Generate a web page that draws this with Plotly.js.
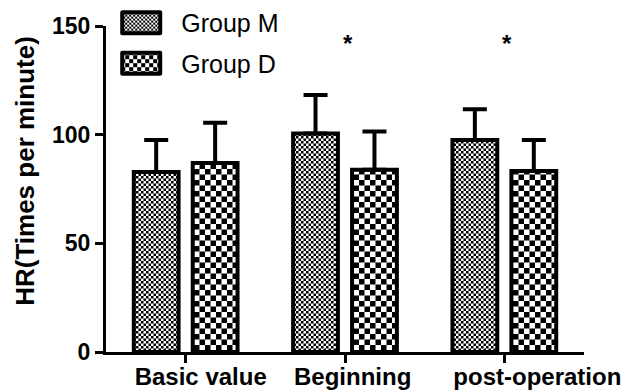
<!DOCTYPE html>
<html>
<head>
<meta charset="utf-8">
<script src="https://cdn.plot.ly/plotly-3.0.1.min.js"></script>
<style>
html,body{margin:0;padding:0;background:#fff;}
#chart{width:632px;height:392px;}
</style>
</head>
<body>
<div id="chart"></div>
<script>
var categories = ["Basic value", "Beginning", "post-operation"];
var groupM = [82.8, 100.5, 97.6];
var groupMErr = [14.8, 17.8, 14.1];
var groupD = [87.0, 83.8, 83.3];
var groupDErr = [18.5, 17.6, 14.3];
var starCategories = ["Beginning", "post-operation"];
var yTicks = [0, 50, 100, 150];
var yTitle = "HR(Times per minute)";

var FONT = "Liberation Sans, Arial, sans-serif";

function barTrace(name, vals, errs, psize) {
  return {
    type: "bar",
    name: name,
    x: categories,
    y: vals,
    marker: {
      color: "white",
      line: {color: "black", width: 4},
      pattern: {shape: ".", size: psize, solidity: 0.4, fgcolor: "black", bgcolor: "white", fillmode: "replace"}
    },
    error_y: {
      type: "data", symmetric: false, array: errs, arrayminus: [0, 0, 0],
      color: "black", thickness: 4, width: 12
    },
    legendgroup: name
  };
}

var data = [
  barTrace("Group M", groupM, groupMErr, 5),
  barTrace("Group D", groupD, groupDErr, 11)
];

var annotations = starCategories.map(function (c) {
  return {
    x: c, y: 142, xref: "x", yref: "y", text: "*", showarrow: false, xshift: 3,
    font: {family: FONT, size: 24, color: "black", weight: "bold"}
  };
});
annotations.push({
  x: -0.17, y: 0.555, xref: "paper", yref: "paper", text: yTitle, showarrow: false,
  textangle: -90, xanchor: "center", yanchor: "middle",
  font: {family: FONT, size: 26, color: "black", weight: "bold"}
});

var layout = {
  width: 632, height: 392,
  margin: {l: 106, r: 48, t: 26, b: 40, autoexpand: false},
  paper_bgcolor: "white", plot_bgcolor: "white",
  barmode: "group", bargap: 0.26, bargroupgap: 0.24,
  showlegend: true,
  legend: {
    x: -0.01, y: 1.08, xanchor: "left", yanchor: "top",
    bgcolor: "rgba(0,0,0,0)", itemwidth: 70,
    font: {family: FONT, size: 25, color: "black"},
    traceorder: "grouped", tracegroupgap: 5,
    itemclick: false
  },
  xaxis: {
    type: "category", range: [-0.5, 2.5],
    showline: true, linewidth: 3, linecolor: "black",
    ticks: "outside", ticklen: 8, tickwidth: 3, tickcolor: "black",
    showgrid: false, zeroline: false, ticklabelstandoff: 1,
    ticklabelposition: "outside right", ticklabelshift: -54,
    tickfont: {family: FONT, size: 24, color: "black", weight: "bold"}
  },
  yaxis: {
    range: [0, 150], tickvals: yTicks, ticktext: yTicks.map(String),
    showline: true, linewidth: 3, linecolor: "black",
    ticks: "outside", ticklen: 8, tickwidth: 3, tickcolor: "black",
    showgrid: false, zeroline: false,
    tickfont: {family: FONT, size: 23, color: "black", weight: "bold"}
  },
  annotations: annotations
};

function checkerize(gd) {
  var pats = gd.querySelectorAll("pattern");
  var ns = "http://www.w3.org/2000/svg";
  pats.forEach(function (p) {
    var w = parseFloat(p.getAttribute("width"));
    if (!w) return;
    while (p.firstChild) p.removeChild(p.firstChild);
    var h = w / 2;
    var bg = document.createElementNS(ns, "rect");
    bg.setAttribute("x", 0); bg.setAttribute("y", 0);
    bg.setAttribute("width", w); bg.setAttribute("height", w);
    bg.setAttribute("fill", "white");
    p.appendChild(bg);
    [[0, 0], [h, h]].forEach(function (o) {
      var r = document.createElementNS(ns, "rect");
      r.setAttribute("x", o[0]); r.setAttribute("y", o[1]);
      r.setAttribute("width", h); r.setAttribute("height", h);
      r.setAttribute("fill", "black");
      p.appendChild(r);
    });
  });
  gd.querySelectorAll(".legendpoints path").forEach(function (pth) {
    pth.setAttribute("d", "M19,10.5H-19V-10.5H19Z");
    pth.style.strokeWidth = "4px";
    pth.setAttribute("stroke-linejoin", "round");
  });
}

var gd = document.getElementById("chart");
Plotly.newPlot(gd, data, layout, {staticPlot: true, displayModeBar: false}).then(function () {
  checkerize(gd);
});
</script>
</body>
</html>
